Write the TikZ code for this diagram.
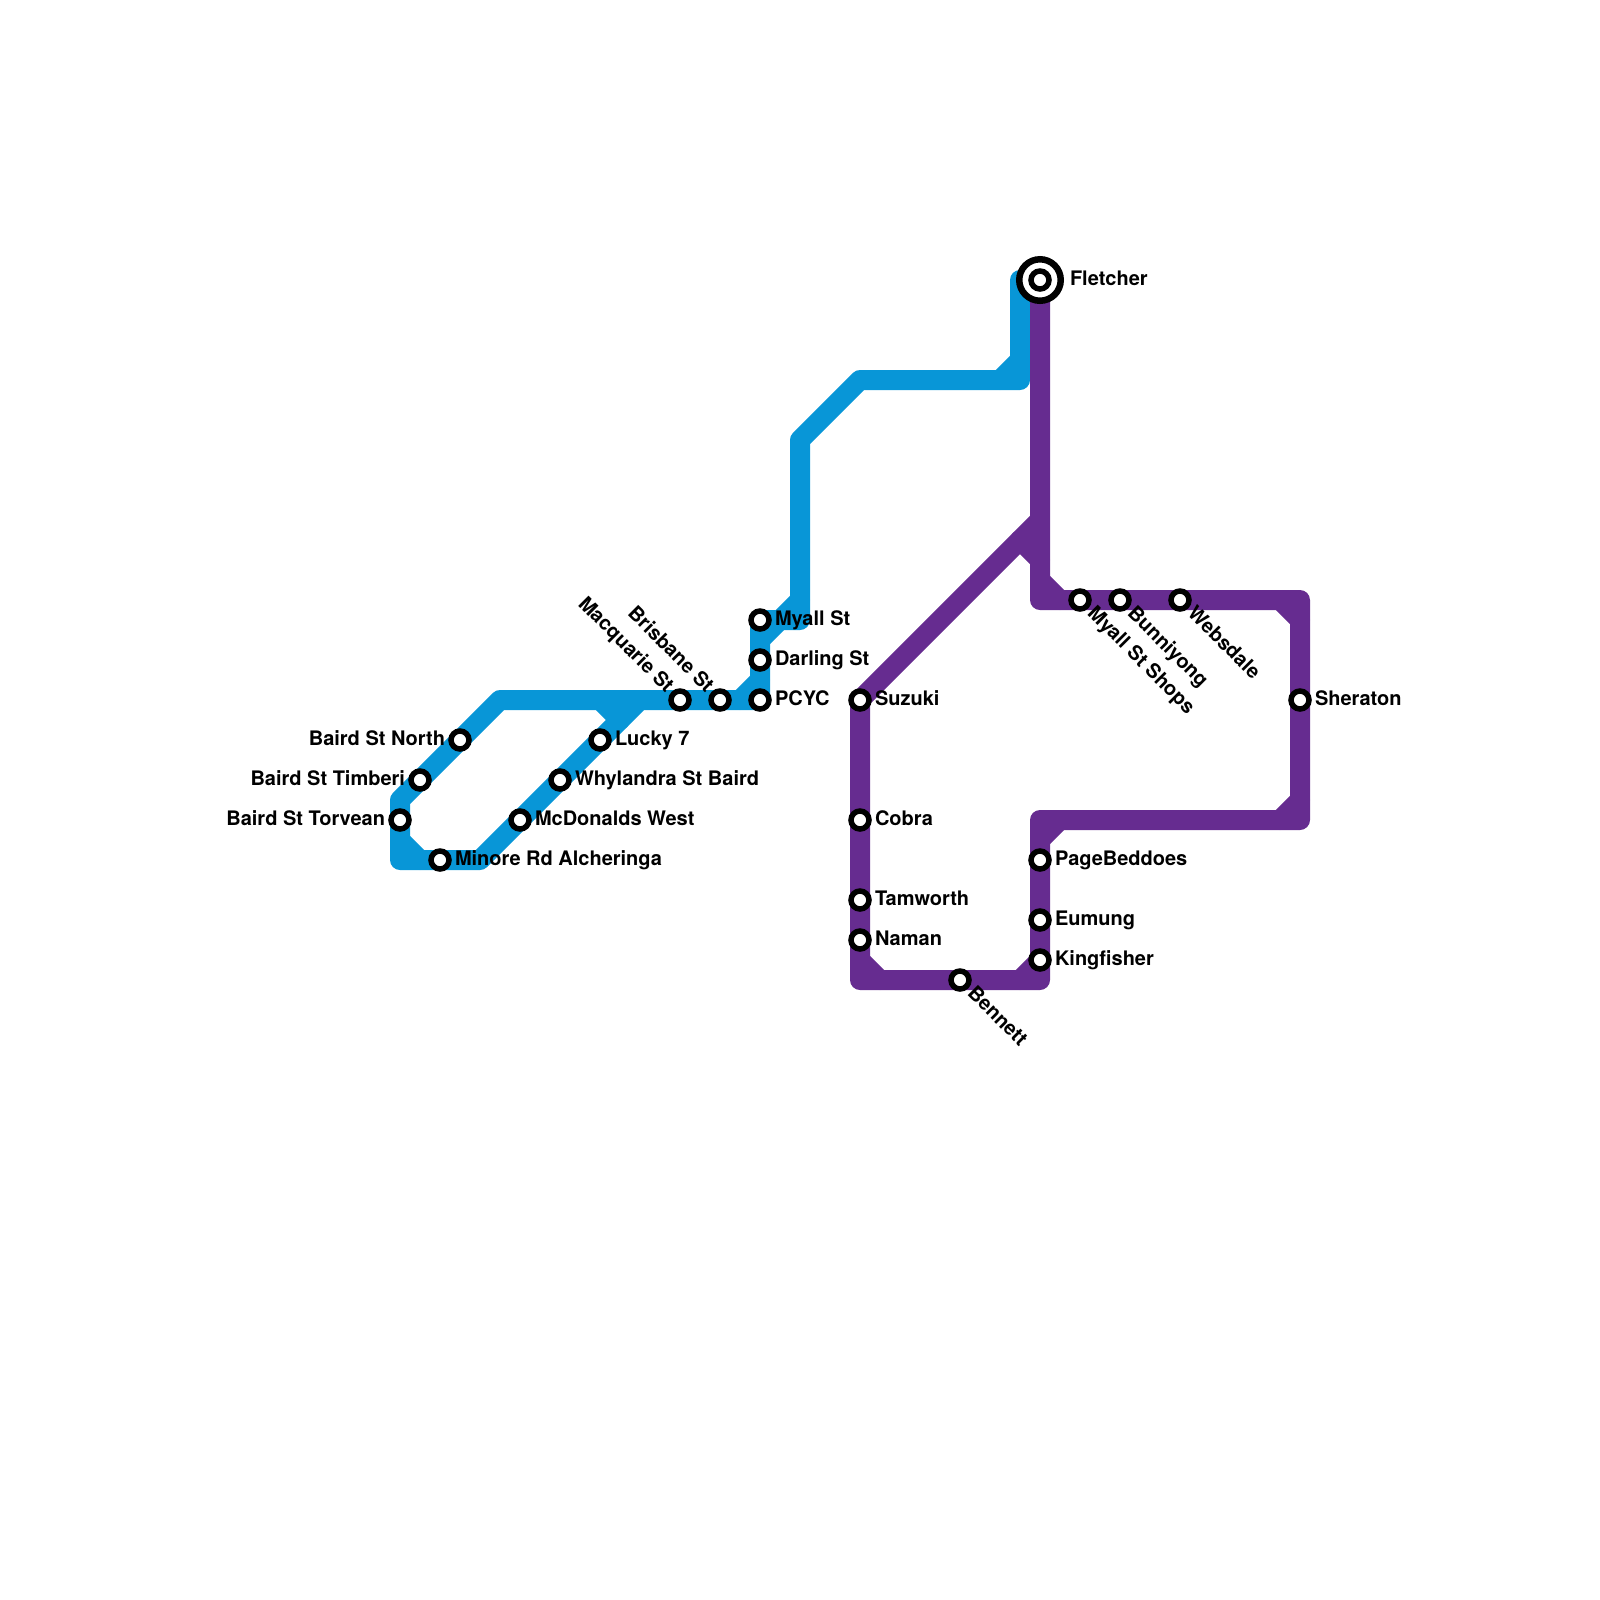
\documentclass[tikz,border=0pt]{standalone}
\usepackage{fontspec}
\setmainfont{TeX Gyre Heros}
\usepackage{tikz}

\definecolor{lineblue}{HTML}{0896D7}
\definecolor{linepurple}{HTML}{662C90}

\tikzset{
  blueline/.style={draw=lineblue,line width=2mm,line join=round,line cap=round},
  purpleline/.style={draw=linepurple,line width=2mm,line join=round,line cap=round},
  stop/.style={circle,draw=black,fill=white,line width=0.55mm,minimum size=1.8mm,inner sep=0pt},
  lblE/.style={anchor=base west,inner sep=0pt,outer sep=0pt,xshift=1.5mm,yshift=-0.55mm,font=\fontsize{5.69pt}{7pt}\selectfont\bfseries},
  lblW/.style={anchor=base east,inner sep=0pt,outer sep=0pt,xshift=-1.5mm,yshift=-0.55mm,font=\fontsize{5.69pt}{7pt}\selectfont\bfseries},
  lblSE/.style={rotate=-45,lblE},
  lblNW/.style={rotate=-45,lblW},
}

\begin{document}
\begin{tikzpicture}[x=0.4cm,y=-0.4cm]
  \useasboundingbox (0,0) rectangle (40,40);

  % Stations ligne bleue
  \coordinate (myallst) at (19,15.5);
  \coordinate (darling) at (19,16.5);
  \coordinate (pcyc) at (19,17.5);
  \coordinate (brisbane) at (18,17.5);
  \coordinate (macquarie) at (17,17.5);
  \coordinate (north) at (11.5,18.5);
  \coordinate (timberi) at (10.5,19.5);
  \coordinate (torvean) at (10,20.5);
  \coordinate (minore) at (11,21.5);
  \coordinate (mcdonalds) at (13,20.5);
  \coordinate (whylandra) at (14,19.5);
  \coordinate (lucky) at (15,18.5);

  % Stations ligne violette
  \coordinate (fletcher) at (26,7);
  \coordinate (shops) at (27,15);
  \coordinate (bunniyong) at (28,15);
  \coordinate (websdale) at (29.5,15);
  \coordinate (sheraton) at (32.5,17.5);
  \coordinate (pagebeddoes) at (26,21.5);
  \coordinate (eumung) at (26,23);
  \coordinate (kingfisher) at (26,24);
  \coordinate (bennett) at (24,24.5);
  \coordinate (naman) at (21.5,23.5);
  \coordinate (tamworth) at (21.5,22.5);
  \coordinate (cobra) at (21.5,20.5);
  \coordinate (suzuki) at (21.5,17.5);

  % Coudes ligne bleue
  \coordinate (b1) at (25.5,7);
  \coordinate (b2) at (25.5,9.5);
  \coordinate (b3) at (21.5,9.5);
  \coordinate (b4) at (20,11);
  \coordinate (b5) at (20,15.5);
  \coordinate (b6) at (12.5,17.5);
  \coordinate (b7) at (10,20);
  \coordinate (b8) at (10,21.5);
  \coordinate (b9) at (12,21.5);
  \coordinate (b10) at (16,17.5);

  % Coudes ligne violette
  \coordinate (p1) at (26,15);
  \coordinate (p2) at (32.5,15);
  \coordinate (p3) at (32.5,20.5);
  \coordinate (p4) at (26,20.5);
  \coordinate (p5) at (26,24.5);
  \coordinate (p6) at (21.5,24.5);
  \coordinate (p7) at (26,13);

  % Pans coupes
  \coordinate (ba) at (25,9.5);
  \coordinate (bb) at (25.5,9);
  \coordinate (bc) at (19.5,15.5);
  \coordinate (bd) at (20,15);
  \coordinate (be) at (19,16);
  \coordinate (bf) at (18.5,17.5);
  \coordinate (bg) at (19,17);
  \coordinate (bh) at (10,21);
  \coordinate (bi) at (10.5,21.5);
  \coordinate (bj) at (15,17.5);
  \coordinate (bk) at (15.5,18);
  \coordinate (pa) at (26,14.5);
  \coordinate (pb) at (26.5,15);
  \coordinate (pc) at (32,15);
  \coordinate (pd) at (32.5,15.5);
  \coordinate (pe) at (32,20.5);
  \coordinate (pf) at (32.5,20);
  \coordinate (pg) at (26,21);
  \coordinate (ph) at (26.5,20.5);
  \coordinate (pi) at (25.5,24.5);
  \coordinate (pj) at (21.5,24);
  \coordinate (pk) at (22,24.5);
  \coordinate (pl) at (25.5,13.5);
  \coordinate (pm) at (26,14);

  % Ligne bleue
  \draw[blueline] (b1)--(b2)--(b3)--(b4)--(b5)--(myallst)--(darling)--(pcyc)--(brisbane)--(macquarie)--(b6)--(north)--(timberi)--(b7)--(torvean)--(b8)--(minore)--(b9)--(mcdonalds)--(whylandra)--(lucky)--(b10);
  \draw[blueline] (ba)--(bb);
  \draw[blueline] (bc)--(bd);
  \draw[blueline] (be)--(bc);
  \draw[blueline] (bf)--(bg);
  \draw[blueline] (bh)--(bi);
  \draw[blueline] (bj)--(bk);

  % Ligne violette
  \draw[purpleline] (fletcher)--(p1)--(shops)--(bunniyong)--(websdale)--(p2)--(sheraton)--(p3)--(p4)--(pagebeddoes)--(eumung)--(kingfisher)--(p5)--(bennett)--(p6)--(naman)--(tamworth)--(cobra)--(suzuki)--(p7);
  \draw[purpleline] (pa)--(pb);
  \draw[purpleline] (pc)--(pd);
  \draw[purpleline] (pe)--(pf);
  \draw[purpleline] (pg)--(ph);
  \draw[purpleline] (pi)--(kingfisher);
  \draw[purpleline] (pj)--(pk);
  \draw[purpleline] (pl)--(pm);

  % Terminus
  \node[circle,draw=black,fill=white,line width=0.65mm,minimum size=4.15mm,inner sep=0pt] (ringfletcher) at (fletcher) {};
  \node[stop] (sfletcher) at (fletcher) {};
  \node[lblE,xshift=1.5mm] (tfletcher) at (fletcher) {Fletcher};

  % Arrets et etiquettes
  \node[stop] (smyallst) at (myallst) {};
  \node[lblE] (tmyallst) at (myallst) {Myall St};
  \node[stop] (sdarling) at (darling) {};
  \node[lblE] (tdarling) at (darling) {Darling St};
  \node[stop] (spcyc) at (pcyc) {};
  \node[lblE] (tpcyc) at (pcyc) {PCYC};
  \node[stop] (sbrisbane) at (brisbane) {};
  \node[lblNW] (tbrisbane) at (brisbane) {Brisbane St};
  \node[stop] (smacquarie) at (macquarie) {};
  \node[lblNW] (tmacquarie) at (macquarie) {Macquarie St};
  \node[stop] (snorth) at (north) {};
  \node[lblW] (tnorth) at (north) {Baird St North};
  \node[stop] (stimberi) at (timberi) {};
  \node[lblW] (ttimberi) at (timberi) {Baird St Timberi};
  \node[stop] (storvean) at (torvean) {};
  \node[lblW] (ttorvean) at (torvean) {Baird St Torvean};
  \node[stop] (sminore) at (minore) {};
  \node[lblE] (tminore) at (minore) {Minore Rd Alcheringa};
  \node[stop] (smcdonalds) at (mcdonalds) {};
  \node[lblE] (tmcdonalds) at (mcdonalds) {McDonalds West};
  \node[stop] (swhylandra) at (whylandra) {};
  \node[lblE] (twhylandra) at (whylandra) {Whylandra St Baird};
  \node[stop] (slucky) at (lucky) {};
  \node[lblE] (tlucky) at (lucky) {Lucky 7};
  \node[stop] (sshops) at (shops) {};
  \node[lblSE] (tshops) at (shops) {Myall St Shops};
  \node[stop] (sbunniyong) at (bunniyong) {};
  \node[lblSE] (tbunniyong) at (bunniyong) {Bunniyong};
  \node[stop] (swebsdale) at (websdale) {};
  \node[lblSE] (twebsdale) at (websdale) {Websdale};
  \node[stop] (ssheraton) at (sheraton) {};
  \node[lblE] (tsheraton) at (sheraton) {Sheraton};
  \node[stop] (spagebeddoes) at (pagebeddoes) {};
  \node[lblE] (tpagebeddoes) at (pagebeddoes) {PageBeddoes};
  \node[stop] (seumung) at (eumung) {};
  \node[lblE] (teumung) at (eumung) {Eumung};
  \node[stop] (skingfisher) at (kingfisher) {};
  \node[lblE] (tkingfisher) at (kingfisher) {Kingfisher};
  \node[stop] (sbennett) at (bennett) {};
  \node[lblSE] (tbennett) at (bennett) {Bennett};
  \node[stop] (snaman) at (naman) {};
  \node[lblE] (tnaman) at (naman) {Naman};
  \node[stop] (stamworth) at (tamworth) {};
  \node[lblE] (ttamworth) at (tamworth) {Tamworth};
  \node[stop] (scobra) at (cobra) {};
  \node[lblE] (tcobra) at (cobra) {Cobra};
  \node[stop] (ssuzuki) at (suzuki) {};
  \node[lblE] (tsuzuki) at (suzuki) {Suzuki};
\end{tikzpicture}
\end{document}
